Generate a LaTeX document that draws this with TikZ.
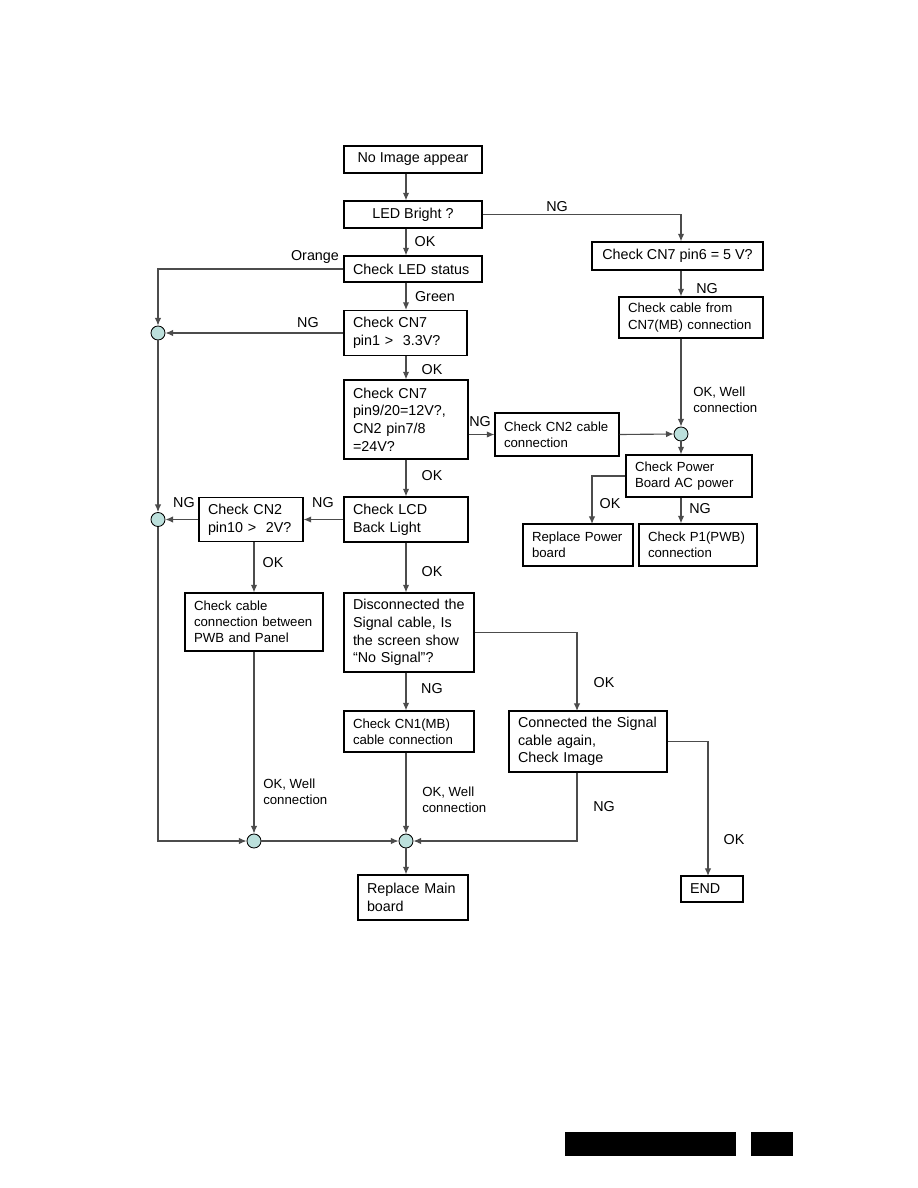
\documentclass[tikz,border=0pt]{standalone}
\usepackage{fontspec}
\setmainfont{Liberation Sans}
\usetikzlibrary{arrows.meta}
\definecolor{jointeal}{HTML}{BCE0DC}
\definecolor{linegray}{gray}{0.3}
\newcommand{\bigtxt}{\fontsize{10.2}{12.6}\selectfont}
\newcommand{\smalltxt}{\fontsize{9.4}{11.5}\selectfont}

\begin{document}
\begin{tikzpicture}[x=0.025cm, y=-0.025cm, >={Latex[length=1.9mm,width=1.6mm]},
    box/.style={draw, line width=0.8pt, inner xsep=9*0.025cm, inner ysep=0pt, align=left, font=\bigtxt},
    cbox/.style={draw, line width=0.8pt, inner sep=0pt, align=center, font=\bigtxt},
    boxsize/.style 2 args={text width=#1*0.025cm-18*0.025cm, minimum height=#2*0.025cm},
    joint/.style={circle, draw, fill=jointeal, line width=0.6pt, minimum size=14*0.025cm, inner sep=0pt},
    lbl/.style={inner sep=0pt, font=\bigtxt},
    flow/.style={->, draw=linegray, line width=0.8pt}]
    \useasboundingbox (0,0) rectangle (918,1188);

    % Draw main column
    \node[cbox, minimum width=138*0.025cm, minimum height=27*0.025cm] (noimg) at (413,159.5) {No Image appear};
    \node[cbox, minimum width=138*0.025cm, minimum height=27*0.025cm] (led) at (413,214.5) {LED Bright ?};
    \node[box, boxsize={138}{26}] (status) at (413,269) {Check LED status};
    \node[box, boxsize={123}{45}] (cnA) at (405.5,333) {Check CN7\\pin1 >~ 3.3V?};
    \node[box, boxsize={124}{79}] (cnB) at (406,419.5) {Check CN7\\pin9/20=12V?,\\CN2 pin7/8\\=24V?};
    \node[box, boxsize={124}{45}] (lcd) at (406,519.5) {Check LCD\\Back Light};
    \node[box, boxsize={130}{79}] (sig) at (409,632.5) {Disconnected the\\Signal cable, Is\\the screen show\\“No Signal”?};
    \node[box, boxsize={130}{41}, font=\smalltxt] (cn1) at (409,731.5) {Check CN1(MB)\\cable connection};
    \node[box, boxsize={110}{45}] (mainb) at (413,897.5) {Replace Main\\board};

    % Draw left branch
    \node[box, boxsize={104}{44}] (cnC) at (251,519.5) {Check CN2\\pin10 >~ 2V?};
    \node[box, boxsize={138}{58}, font=\smalltxt] (pwb) at (254,622) {Check cable\\connection between\\PWB and Panel};

    % Draw right branch
    \node[cbox, minimum width=171*0.025cm, minimum height=28*0.025cm] (p6) at (677.5,256) {Check CN7 pin6 = 5 V?};
    \node[box, boxsize={144}{41}, font=\smalltxt] (cab) at (691,317.5) {Check cable from\\CN7(MB) connection};
    \node[box, boxsize={124}{43}, font=\smalltxt] (cn2c) at (557,434.5) {Check CN2 cable\\connection};
    \node[box, boxsize={126}{42}, font=\smalltxt] (pwr) at (689,476) {Check Power\\Board AC power};
    \node[box, boxsize={110}{42}, font=\smalltxt] (rpw) at (578,545) {Replace Power\\board};
    \node[box, boxsize={118}{42}, font=\smalltxt] (p1) at (698,545) {Check P1(PWB)\\connection};
    \node[box, boxsize={158}{61}] (again) at (588,741.5) {Connected the Signal\\cable again,\\Check Image};
    \node[box, boxsize={62}{26}] (fin) at (712,889) {END};

    % Draw joints
    \node[joint] (jL1) at (158,333) {};
    \node[joint] (jL2) at (158,519.5) {};
    \node[joint] (jB1) at (254,841) {};
    \node[joint] (jB2) at (406,841) {};
    \node[joint] (jR) at (681,434) {};
    \coordinate (rpwin) at (592,524);
    \coordinate (againin) at (577,711);
    \coordinate (finin) at (708,876);

    % Draw connectors
    \draw[flow] (noimg.south -| jB2) -- (led.north -| jB2);
    \draw[flow] (led.south -| jB2) -- (status.north -| jB2);
    \draw[flow] (led.east) -| (p6.north -| jR);
    \draw[flow] (status.west) -| (jL1.north);
    \draw[flow] (status.south -| jB2) -- (cnA.north -| jB2);
    \draw[flow] (cnA.west) -- (jL1.east);
    \draw[flow] (jL1.south) -- (jL2.north);
    \draw[flow] (jL2.south) |- (jB1.west);
    \draw[flow] (cnA.south -| jB2) -- (cnB.north -| jB2);
    \draw[flow] (cnB.east |- cn2c.west) -- (cn2c.west);
    \draw[flow] (cn2c.east) -- (jR.west);
    \draw[flow] (p6.south -| jR) -- (cab.north -| jR);
    \draw[flow] (cab.south -| jR) -- (jR.north);
    \draw[flow] (jR.south) -- (pwr.north -| jR);
    \draw[flow] (pwr.west) -| (rpwin);
    \draw[flow] (pwr.south -| jR) -- (p1.north -| jR);
    \draw[flow] (cnB.south -| jB2) -- (lcd.north -| jB2);
    \draw[flow] (lcd.west) -- (cnC.east);
    \draw[flow] (cnC.west) -- (jL2.east);
    \draw[flow] (cnC.south -| jB1) -- (pwb.north -| jB1);
    \draw[flow] (lcd.south -| jB2) -- (sig.north -| jB2);
    \draw[flow] (sig.south -| jB2) -- (cn1.north -| jB2);
    \draw[flow] (sig.east) -| (againin);
    \draw[flow] (cn1.south -| jB2) -- (jB2.north);
    \draw[flow] (pwb.south -| jB1) -- (jB1.north);
    \draw[flow] (jB1.east) -- (jB2.west);
    \draw[flow] (again.south -| againin) |- (jB2.east);
    \draw[flow] (again.east) -| (finin);
    \draw[flow] (jB2.south) -- (mainb.north -| jB2);

    % Draw labels
    \node[lbl] (tOkLed) at (425,242) {OK};
    \node[lbl] (tOrange) at (315,257) {Orange};
    \node[lbl] (tGreen) at (435,297) {Green};
    \node[lbl] (tNgCnA) at (308,323) {NG};
    \node[lbl] (tNgLed) at (557,207) {NG};
    \node[lbl] (tNgP6) at (707,289) {NG};
    \node[lbl, anchor=west, align=left, font=\smalltxt] (tWellR) at (693,400) {OK, Well\\connection};
    \node[lbl] (tOkCnA) at (432,370) {OK};
    \node[lbl] (tNgCnB) at (480,422) {NG};
    \node[lbl] (tOkCnB) at (432,476) {OK};
    \node[lbl] (tNgLcd) at (323,503) {NG};
    \node[lbl] (tNgCnC) at (184,503) {NG};
    \node[lbl] (tOkCnC) at (273,563) {OK};
    \node[lbl] (tOkLcd) at (432,572) {OK};
    \node[lbl] (tOkPwr) at (610,504) {OK};
    \node[lbl] (tNgPwr) at (700,509) {NG};
    \node[lbl] (tNgSig) at (432,689) {NG};
    \node[lbl, anchor=west, align=left, font=\smalltxt] (tWellL) at (263,792) {OK, Well\\connection};
    \node[lbl, anchor=west, align=left, font=\smalltxt] (tWellM) at (422,800) {OK, Well\\connection};
    \node[lbl] (tOkSig) at (604,683) {OK};
    \node[lbl] (tNgAgain) at (604,807) {NG};
    \node[lbl] (tOkAgain) at (734,840) {OK};

    % Draw page footer bars
    \fill (565,1132) rectangle (736,1156);
    \fill (751,1132) rectangle (793,1156);
\end{tikzpicture}
\end{document}
